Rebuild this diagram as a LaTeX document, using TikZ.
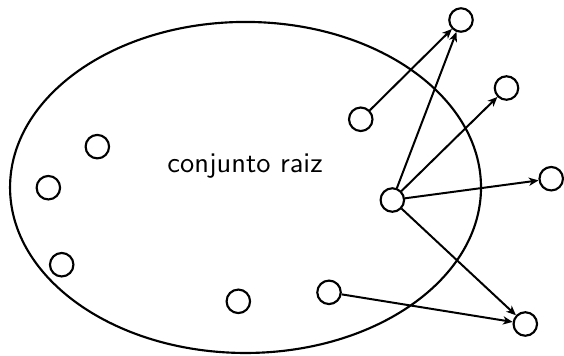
\documentclass[tikz,border=0pt]{standalone}
\usepackage{tikz}
\usetikzlibrary{arrows.meta, shapes.geometric}

\begin{document}
\begin{tikzpicture}[
  pg/.style={circle, draw, line width=0.75pt, minimum size=0.29cm,
    inner sep=0pt},
  arr/.style={-{Stealth[length=3.4pt, width=2.9pt, inset=1pt]},
    line width=0.7pt}
]
  \useasboundingbox (0, 0) rectangle (6.965, 4.384);

  % Root set
  \node[ellipse, draw, line width=0.75pt, minimum width=5.816cm,
    minimum height=4.088cm, inner sep=0pt] (root) at (3.032, 2.069) {};
  \node[font=\sffamily, anchor=base] (lbl) at (3.026, 2.248)
    {conjunto raiz};

  % Pages inside
  \node[pg] (p1) at (1.202, 2.573) {};
  \node[pg] (p2) at (0.597, 2.066) {};
  \node[pg] (p3) at (0.762, 1.115) {};
  \node[pg] (p4) at (2.943, 0.663) {};
  \node[pg] (p5) at (4.063, 0.774) {};
  \node[pg] (p6) at (4.455, 2.911) {};
  \node[pg] (p7) at (4.845, 1.914) {};

  % Pages outside
  \node[pg] (q1) at (5.693, 4.137) {};
  \node[pg] (q2) at (6.255, 3.297) {};
  \node[pg] (q3) at (6.807, 2.177) {};
  \node[pg] (q4) at (6.487, 0.383) {};

  % Links
  \draw[arr] (p6) -- (q1);
  \draw[arr] (p7) -- (q1);
  \draw[arr] (p7) -- (q2);
  \draw[arr] (p7) -- (q3);
  \draw[arr] (p7) -- (q4);
  \draw[arr] (p5) -- (q4);
\end{tikzpicture}
\end{document}
